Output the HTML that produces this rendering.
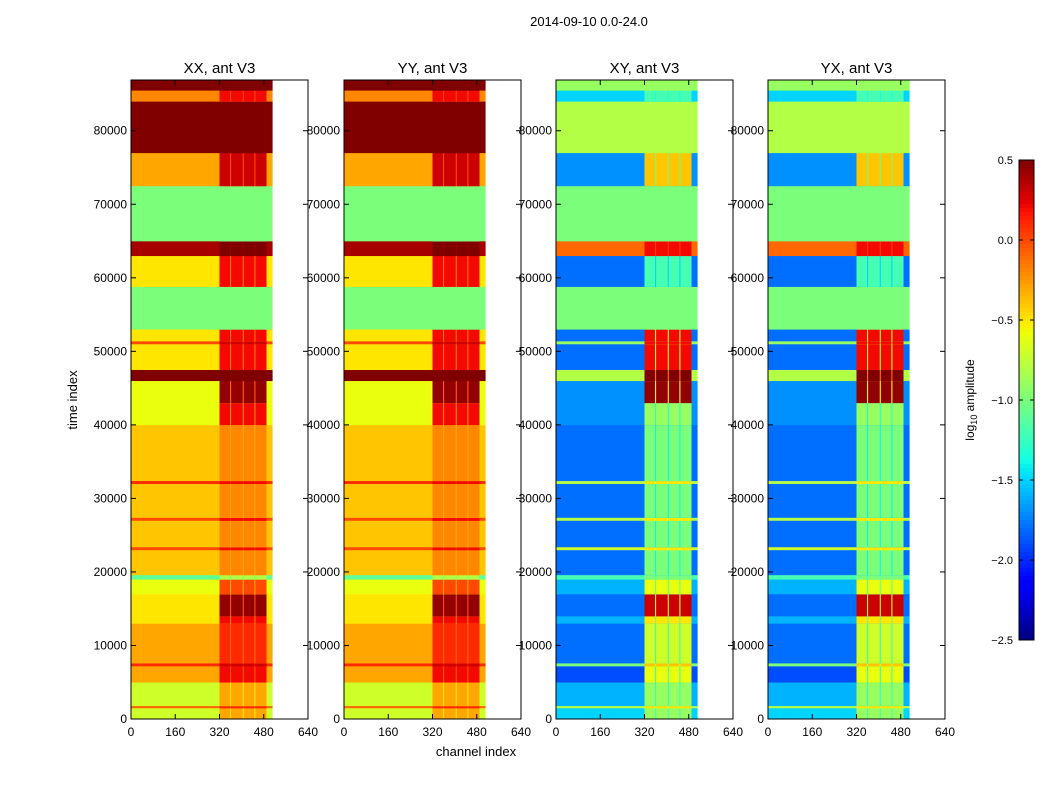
<!DOCTYPE html>
<html><head><meta charset="utf-8"><style>
html,body{margin:0;padding:0;background:#fff;}
svg{display:block;font-family:"Liberation Sans",sans-serif;}
</style></head><body>
<svg id="chart" width="1050" height="800" viewBox="0 0 1050 800">
<text x="589" y="26" font-size="13" text-anchor="middle">2014-09-10 0.0-24.0</text>
<text x="476" y="756" font-size="13" text-anchor="middle">channel index</text>
<text transform="translate(77,400) rotate(-90)" font-size="13" text-anchor="middle">time index</text>
<g id="panels"></g>
<g id="cbar"></g>
</svg>
<script>
// time bands (time index), log10 amplitude values
const bandStart = [0,1500,1800,5000,7200,7600,13000,14000,17000,19000,19600,23000,23400,27000,27400,32000,32400,40000,43000,46000,47500,51000,51400,53000,58800,63000,65000,72500,77000,84000,85500];
const bandEnd   = [1500,1800,5000,7200,7600,13000,14000,17000,19000,19600,23000,23400,27000,27400,32000,32400,40000,43000,46000,47500,51000,51400,53000,58800,63000,65000,72500,77000,84000,85500,86900];
const xxBase = [-0.7,-0.1,-0.7,-0.3,0.1,-0.3,-0.5,-0.5,-0.6,-1.1,-0.4,0.0,-0.4,0.0,-0.4,0.1,-0.4,-0.6,-0.6,0.5,-0.5,0.0,-0.5,-1.0,-0.5,0.4,-1.0,-0.3,0.5,-0.2,0.5];
const xxHot  = [-0.3,0.1,-0.3,0.2,0.3,0.1,0.2,0.45,0.0,-0.8,-0.2,0.2,-0.2,0.2,-0.2,0.2,-0.2,0.2,0.45,0.5,0.2,0.3,0.2,-1.0,0.2,0.5,-1.0,0.3,0.5,0.2,0.5];
const xyBase = [-1.5,-0.8,-1.6,-1.9,-1.0,-1.8,-1.6,-1.8,-1.6,-1.2,-1.8,-0.7,-1.8,-0.8,-1.8,-0.8,-1.8,-1.7,-1.7,-0.8,-1.8,-0.9,-1.8,-1.0,-1.8,-0.1,-1.0,-1.7,-0.8,-1.5,-0.9];
const xyHot  = [-0.9,-0.5,-0.9,-0.6,-0.4,-0.7,-0.5,0.3,-0.6,-1.0,-1.0,-0.5,-1.0,-0.5,-1.0,-0.5,-1.0,-0.9,0.45,0.5,0.2,0.2,0.2,-1.0,-1.2,0.2,-1.0,-0.4,-0.8,-1.2,-0.9];
const hotSegStart = [320,362,408,450];
const hotSegEnd   = [358,404,446,490];
const panelTitles = ["XX, ant V3","YY, ant V3","XY, ant V3","YX, ant V3"];
const xTicks = [0,160,320,480,640];
const yTicks = [0,10000,20000,30000,40000,50000,60000,70000,80000];
const cbTicks = [0.5,0.0,-0.5,-1.0,-1.5,-2.0,-2.5];

const NS="http://www.w3.org/2000/svg";
const VMIN=-2.5,VMAX=0.5;
const JR=[[0,0],[0.35,0],[0.66,1],[0.89,1],[1,0.5]];
const JG=[[0,0],[0.125,0],[0.375,1],[0.64,1],[0.91,0],[1,0]];
const JB=[[0,0.5],[0.11,1],[0.34,1],[0.65,0],[1,0]];
function interp(seg,t){for(let i=1;i<seg.length;i++){if(t<=seg[i][0]){const a=seg[i-1],b=seg[i];return a[1]+(b[1]-a[1])*(t-a[0])/(b[0]-a[0]);}}return seg[seg.length-1][1];}
function jet(v){let t=(v-VMIN)/(VMAX-VMIN);t=Math.max(0,Math.min(1,t));
 return `rgb(${Math.round(interp(JR,t)*255)},${Math.round(interp(JG,t)*255)},${Math.round(interp(JB,t)*255)})`;}
function mk(tag,attrs,parent){const e=document.createElementNS(NS,tag);for(const k in attrs)e.setAttribute(k,attrs[k]);parent.appendChild(e);return e;}
const panelX=[131,344,556,768],PW=177,PT=80,PB=719,TMAX=86900;
const panels=document.getElementById('panels');
panelX.forEach((px,pi)=>{
 const g=mk('g',{},panels);
 
 
 const sx=c=>px+c/640*PW, sy=t=>PB-t/TMAX*(PB-PT);
 const base=pi<2?xxBase:xyBase, hot=pi<2?xxHot:xyHot;
 for(let i=0;i<bandStart.length;i++){
  const y1=sy(bandEnd[i]),y0=sy(bandStart[i]);
  const r=mk('rect',{x:sx(0),y:y1,width:sx(512)-sx(0),height:y0-y1+0.3,fill:jet(base[i])},g);
  
  
  const mid=mk('rect',{x:sx(320),y:y1,width:sx(490)-sx(320),height:y0-y1+0.3,fill:jet((base[i]+hot[i])/2)},g);
  
  
  for(let j=0;j<hotSegStart.length;j++){
   const h=mk('rect',{x:sx(hotSegStart[j]),y:y1,width:sx(hotSegEnd[j])-sx(hotSegStart[j]),height:y0-y1+0.3,fill:jet(hot[i])},g);
   
   
  }
 }
 mk('rect',{x:px,y:PT,width:PW,height:PB-PT,fill:'none',stroke:'#000','stroke-width':1},g);
 const t=mk('text',{x:px+PW/2,y:PT-7,'font-size':15,'text-anchor':'middle'},g);t.textContent=panelTitles[pi];
 
 
 xTicks.forEach(v=>{const x=sx(v);
  mk('line',{x1:x,x2:x,y1:PB,y2:PB-5,stroke:'#000'},g);mk('line',{x1:x,x2:x,y1:PT,y2:PT+5,stroke:'#000'},g);
  const l=mk('text',{x:x,y:PB+17,'font-size':12,'text-anchor':'middle'},g);l.textContent=v;
  
  });
 yTicks.forEach(v=>{const y=sy(v);
  mk('line',{x1:px,x2:px+5,y1:y,y2:y,stroke:'#000'},g);mk('line',{x1:px+PW,x2:px+PW-5,y1:y,y2:y,stroke:'#000'},g);
  const l=mk('text',{x:px-4,y:y+4,'font-size':12,'text-anchor':'end'},g);l.textContent=v;
  
  });
});
const cb=document.getElementById('cbar');
const CX=1019,CW=15,CT=160,CB=640;
for(let i=0;i<120;i++){const v=VMAX-(i+0.5)/120*(VMAX-VMIN);
 mk('rect',{x:CX,y:CT+i*(CB-CT)/120,width:CW,height:(CB-CT)/120+0.5,fill:jet(v)},cb);}
mk('rect',{x:CX,y:CT,width:CW,height:CB-CT,fill:'none',stroke:'#000'},cb);
cbTicks.forEach(v=>{const y=CT+(VMAX-v)/(VMAX-VMIN)*(CB-CT);
 mk('line',{x1:CX+CW-4,x2:CX+CW,y1:y,y2:y,stroke:'#000'},cb);
 mk('line',{x1:CX,x2:CX+4,y1:y,y2:y,stroke:'#000'},cb);
 const l=mk('text',{x:1013,y:y+4,'font-size':11,'text-anchor':'end'},cb);l.textContent=v.toFixed(1).replace('-','\u2212');
 
 });
const cl=mk('text',{transform:'translate(974,400) rotate(-90)','font-size':12,'text-anchor':'middle'},cb);
cl.innerHTML='log<tspan font-size="9" dy="3">10</tspan><tspan dy="-3"> amplitude</tspan>';


</script>
</body></html>
